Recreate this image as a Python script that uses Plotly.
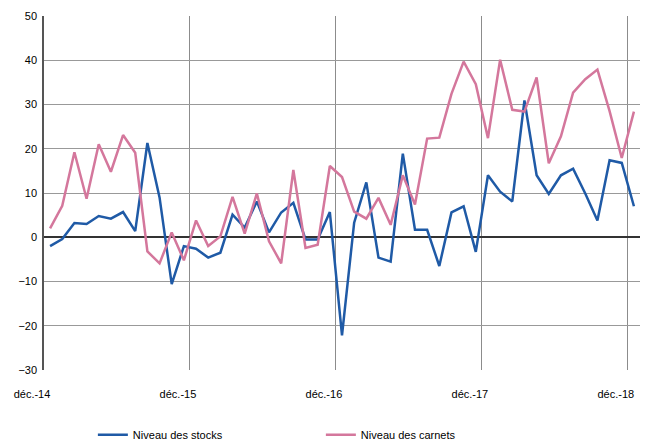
import plotly.graph_objects as go

months = list(range(49))  # déc.-14 ... déc.-18, monthly
tick_labels = ["déc.-14", "déc.-15", "déc.-16", "déc.-17", "déc.-18"]

stocks = [-2.0, -0.4, 3.2, 3.0, 4.8, 4.2, 5.7, 1.4, 21.3, 9.0, -10.6, -2.0,
          -2.6, -4.6, -3.5, 5.1, 2.2, 8.1, 1.1, 5.6, 7.8, -0.5, -0.5, 5.7,
          -22.2, 3.3, 12.4, -4.6, -5.5, 18.9, 1.7, 1.7, -6.5, 5.6, 7.0, -3.3,
          14.0, 10.3, 8.1, 30.9, 14.0, 9.8, 14.0, 15.5, 9.9, 3.8, 17.4, 16.8,
          7.0]
carnets = [2.0, 7.1, 19.2, 8.7, 21.0, 14.8, 23.1, 19.1, -3.2, -5.9, 1.1, -5.2,
           3.8, -2.0, 0.2, 9.1, 0.8, 9.9, -0.9, -5.9, 15.2, -2.4, -1.7, 16.1,
           13.6, 5.8, 4.2, 8.9, 2.8, 14.0, 7.4, 22.3, 22.5, 32.4, 39.7, 34.6,
           22.4, 40.1, 28.8, 28.4, 36.1, 16.7, 22.8, 32.7, 35.7, 37.9, 28.5, 17.9,
           28.4]

font_family = "Liberation Sans Narrow, Arial Narrow, Liberation Sans, Arial, sans-serif"

fig = go.Figure()
fig.add_trace(go.Scatter(x=months, y=stocks, mode="lines", name="Niveau des stocks",
                         line=dict(color="#1F5AA6", width=2.5)))
fig.add_trace(go.Scatter(x=months, y=carnets, mode="lines", name="Niveau des carnets",
                         line=dict(color="#D4779C", width=2.5)))

fig.update_layout(
    width=646, height=448,
    margin=dict(l=44, r=6, t=16, b=78, autoexpand=False),
    paper_bgcolor="white", plot_bgcolor="white",
    font=dict(family=font_family, size=11, color="#000000"),
    showlegend=True,
    legend=dict(orientation="h", x=0.082, xanchor="left", y=-0.183, yanchor="middle",
                entrywidth=183, entrywidthmode="pixels", itemwidth=30,
                font=dict(family=font_family, size=11, color="#000000")),
    xaxis=dict(range=[-0.5, 48.5], tickmode="array", automargin=False,
               tickvals=[-0.5 + 12 * i for i in range(len(tick_labels))],
               ticktext=tick_labels, showgrid=True, gridcolor="#8C8C8C", gridwidth=1,
               zeroline=False, showline=False, ticks="", ticklabelshift=-12,
               ticklabelstandoff=16),
    yaxis=dict(range=[-30, 50], dtick=10, tick0=0, showgrid=True, gridcolor="#999999",
               gridwidth=1, zeroline=True, zerolinecolor="#333333", zerolinewidth=1.5,
               showline=True, linecolor="#555555", linewidth=1.5, ticks="",
               automargin=False, ticklabelstandoff=3),
)

fig.write_html("out.html", config={"displayModeBar": False},
               post_script="document.body.style.margin='0px';document.body.style.overflow='hidden';")
